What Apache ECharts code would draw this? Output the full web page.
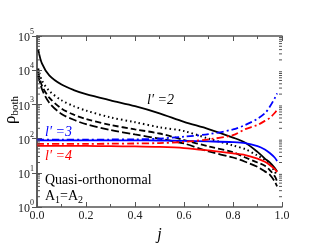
<!DOCTYPE html>
<html><head><meta charset="utf-8">
<script src="https://cdn.jsdelivr.net/npm/echarts@6/dist/echarts.min.js"></script>
<style>html,body{margin:0;padding:0;background:#fff}#c{width:317px;height:245px}</style>
</head><body><div id="c"></div>
<script>
// j grid for black curves
const jBlack = [0.005, 0.02, 0.05, 0.1, 0.15, 0.2, 0.3, 0.4, 0.5, 0.6, 0.7, 0.8, 0.85, 0.9, 0.93, 0.95, 0.97, 0.98];
const blackSolid  = [40000, 15800, 7080, 3800, 2630, 2000, 1320, 890, 550, 309, 190, 107, 76, 41, 26, 20, 14, 11];
const blackDotted = [11200, 5000, 2500, 1320, 890, 660, 417, 302, 214, 166, 100, 63, 49, 32, 24, 18, 11, 8];
const blackDash1  = [8900, 3550, 1580, 760, 500, 372, 251, 186, 141, 91, 59, 40, 28, 20, 16, 12, 8, 5.6];
const blackDash2  = [7080, 2820, 1120, 525, 355, 263, 178, 132, 100, 72, 42, 28, 21, 15, 11, 8.9, 5.6, 4];
// j grid for coloured curves
const jColor = [0, 0.1, 0.2, 0.3, 0.4, 0.5, 0.6, 0.7, 0.8, 0.85, 0.9, 0.93, 0.95, 0.97, 0.98];
const blueSolid   = [89, 89, 89, 89, 89, 88, 86, 83, 79, 74, 60, 48, 38, 28, 22];
const blueDashDot = [93, 93, 93, 94, 95, 100, 114, 135, 185, 250, 380, 550, 850, 1500, 2100];
const redSolid    = [61, 61, 61, 60, 59, 57, 53, 45, 37, 33, 26, 21, 17, 13, 10.5];
const redDashDot  = [70, 70, 70, 71, 72, 74, 80, 95, 126, 190, 250, 330, 400, 560, 700];
const xTicks = [0, 0.2, 0.4, 0.6, 0.8, 1.0];
const yDecades = [1, 10, 100, 1000, 10000, 100000];

const minorY = [];
for (let d = 1; d < 100000; d *= 10) for (let k = 2; k <= 9; k++) minorY.push([k * d]);

const FONT = '"Liberation Serif", "Times New Roman", serif';
const pair = (xs, ys) => xs.map((x, i) => [x, ys[i]]);
function line(data, color, type, width) {
  return { type: 'line', data, showSymbol: false, symbol: 'none', smooth: 0.3,
    lineStyle: { color, type, width: width || 1.8 }, z: 3, animation: false };
}

const chart = echarts.init(document.getElementById('c'), null, { renderer: 'canvas' });
const axisLine = { show: true, lineStyle: { color: '#555', width: 1.5 } };
chart.setOption({
  animation: false,
  grid: { left: 37, right: 35, top: 36, bottom: 38, containLabel: false, outerBoundsMode: 'none' },
  xAxis: [{
    type: 'value', min: 0, max: 1, interval: 0.2,
    axisLine, axisTick: { inside: true, length: 5, lineStyle: { color: '#555' } },
    minorTick: { show: true, splitNumber: 2, length: 3, lineStyle: { color: '#555' } },
    splitLine: { show: false },
    axisLabel: { fontFamily: FONT, fontSize: 12, color: '#222', margin: 3,
      formatter: v => v.toFixed(1) },
    name: 'j', nameLocation: 'middle', nameGap: 17,
    nameTextStyle: { fontFamily: FONT, fontStyle: 'italic', fontSize: 16, color: '#000' }
  }, {
    type: 'value', min: 0, max: 1, interval: 0.2, position: 'top',
    axisLine, axisTick: { inside: true, length: 5, lineStyle: { color: '#555' } },
    minorTick: { show: true, splitNumber: 2, length: 3, lineStyle: { color: '#555' } },
    splitLine: { show: false }, axisLabel: { show: false }
  }],
  yAxis: [{
    type: 'log', min: 1, max: 100000, logBase: 10,
    axisLine, axisTick: { inside: true, length: 5, lineStyle: { color: '#555' } },
    splitLine: { show: false },
    axisLabel: { margin: 3, formatter: v => '{b|10}{s|' + Math.round(Math.log10(v)) + '}',
      rich: { b: { fontFamily: FONT, fontSize: 12, color: '#222', verticalAlign: 'bottom' },
              s: { fontFamily: FONT, fontSize: 8, color: '#222', verticalAlign: 'top', padding: [0,0,8,0] } } }
  }, {
    type: 'log', min: 1, max: 100000, logBase: 10, position: 'right',
    axisLine, axisTick: { inside: true, length: 5, lineStyle: { color: '#555' } },
    splitLine: { show: false }, axisLabel: { show: false }
  }],
  series: [
    line(pair(jBlack, blackSolid), '#000', 'solid', 1.8),
    line(pair(jBlack, blackDotted), '#000', [1.5, 3], 2),
    line(pair(jBlack, blackDash1), '#000', [6, 3], 1.8),
    line(pair(jBlack, blackDash2), '#000', [8, 3], 1.8),
    line(pair(jColor, blueSolid), '#0000ff', 'solid', 1.8),
    line(pair(jColor, blueDashDot), '#0000ff', [7, 3, 2, 3], 1.8),
    line(pair(jColor, redSolid), '#ff0000', 'solid', 1.8),
    line(pair(jColor, redDashDot), '#ff0000', [7, 3, 2, 3], 1.8),
    {
      type: 'custom', data: minorY, silent: true, clip: false, z: 4,
      renderItem: (params, api) => {
        const v = api.value(0);
        const a = api.coord([0, v]), b = api.coord([1, v]);
        const st = { stroke: '#555', lineWidth: 1 };
        return { type: 'group', children: [
          { type: 'line', shape: { x1: a[0], y1: a[1], x2: a[0] + 3, y2: a[1] }, style: st },
          { type: 'line', shape: { x1: b[0] - 3, y1: b[1], x2: b[0], y2: b[1] }, style: st }
        ] };
      }
    }
  ],
  graphic: [
    { type: 'text', x: 11, y: 110, rotation: Math.PI / 2, style: {
        text: '{r|ρ}{s|both}', align: 'center', verticalAlign: 'middle', rich: {
          r: { fontFamily: FONT, fontSize: 17, fill: '#000' },
          s: { fontFamily: FONT, fontSize: 11, fill: '#000', padding: [8, 0, 0, 0] } } } },
    { type: 'text', left: 147, top: 93, style: { text: 'l′ =2', font: 'italic 14px ' + FONT, fill: '#000' } },
    { type: 'text', left: 45, top: 125, style: { text: 'l′ =3', font: 'italic 14px ' + FONT, fill: '#0000ff' } },
    { type: 'text', left: 45, top: 149, style: { text: 'l′ =4', font: 'italic 14px ' + FONT, fill: '#ff0000' } },
    { type: 'text', left: 45, top: 173, style: { text: 'Quasi-orthonormal', font: '14px ' + FONT, fill: '#000' } },
    { type: 'text', left: 45, top: 189, style: { text: '{a|A}{s|1}{a|=A}{s|2}', rich: {
        a: { fontFamily: FONT, fontSize: 14, fill: '#000' },
        s: { fontFamily: FONT, fontSize: 10, fill: '#000', padding: [8, 0, 0, 0] } } } }
  ]
});
</script></body></html>
